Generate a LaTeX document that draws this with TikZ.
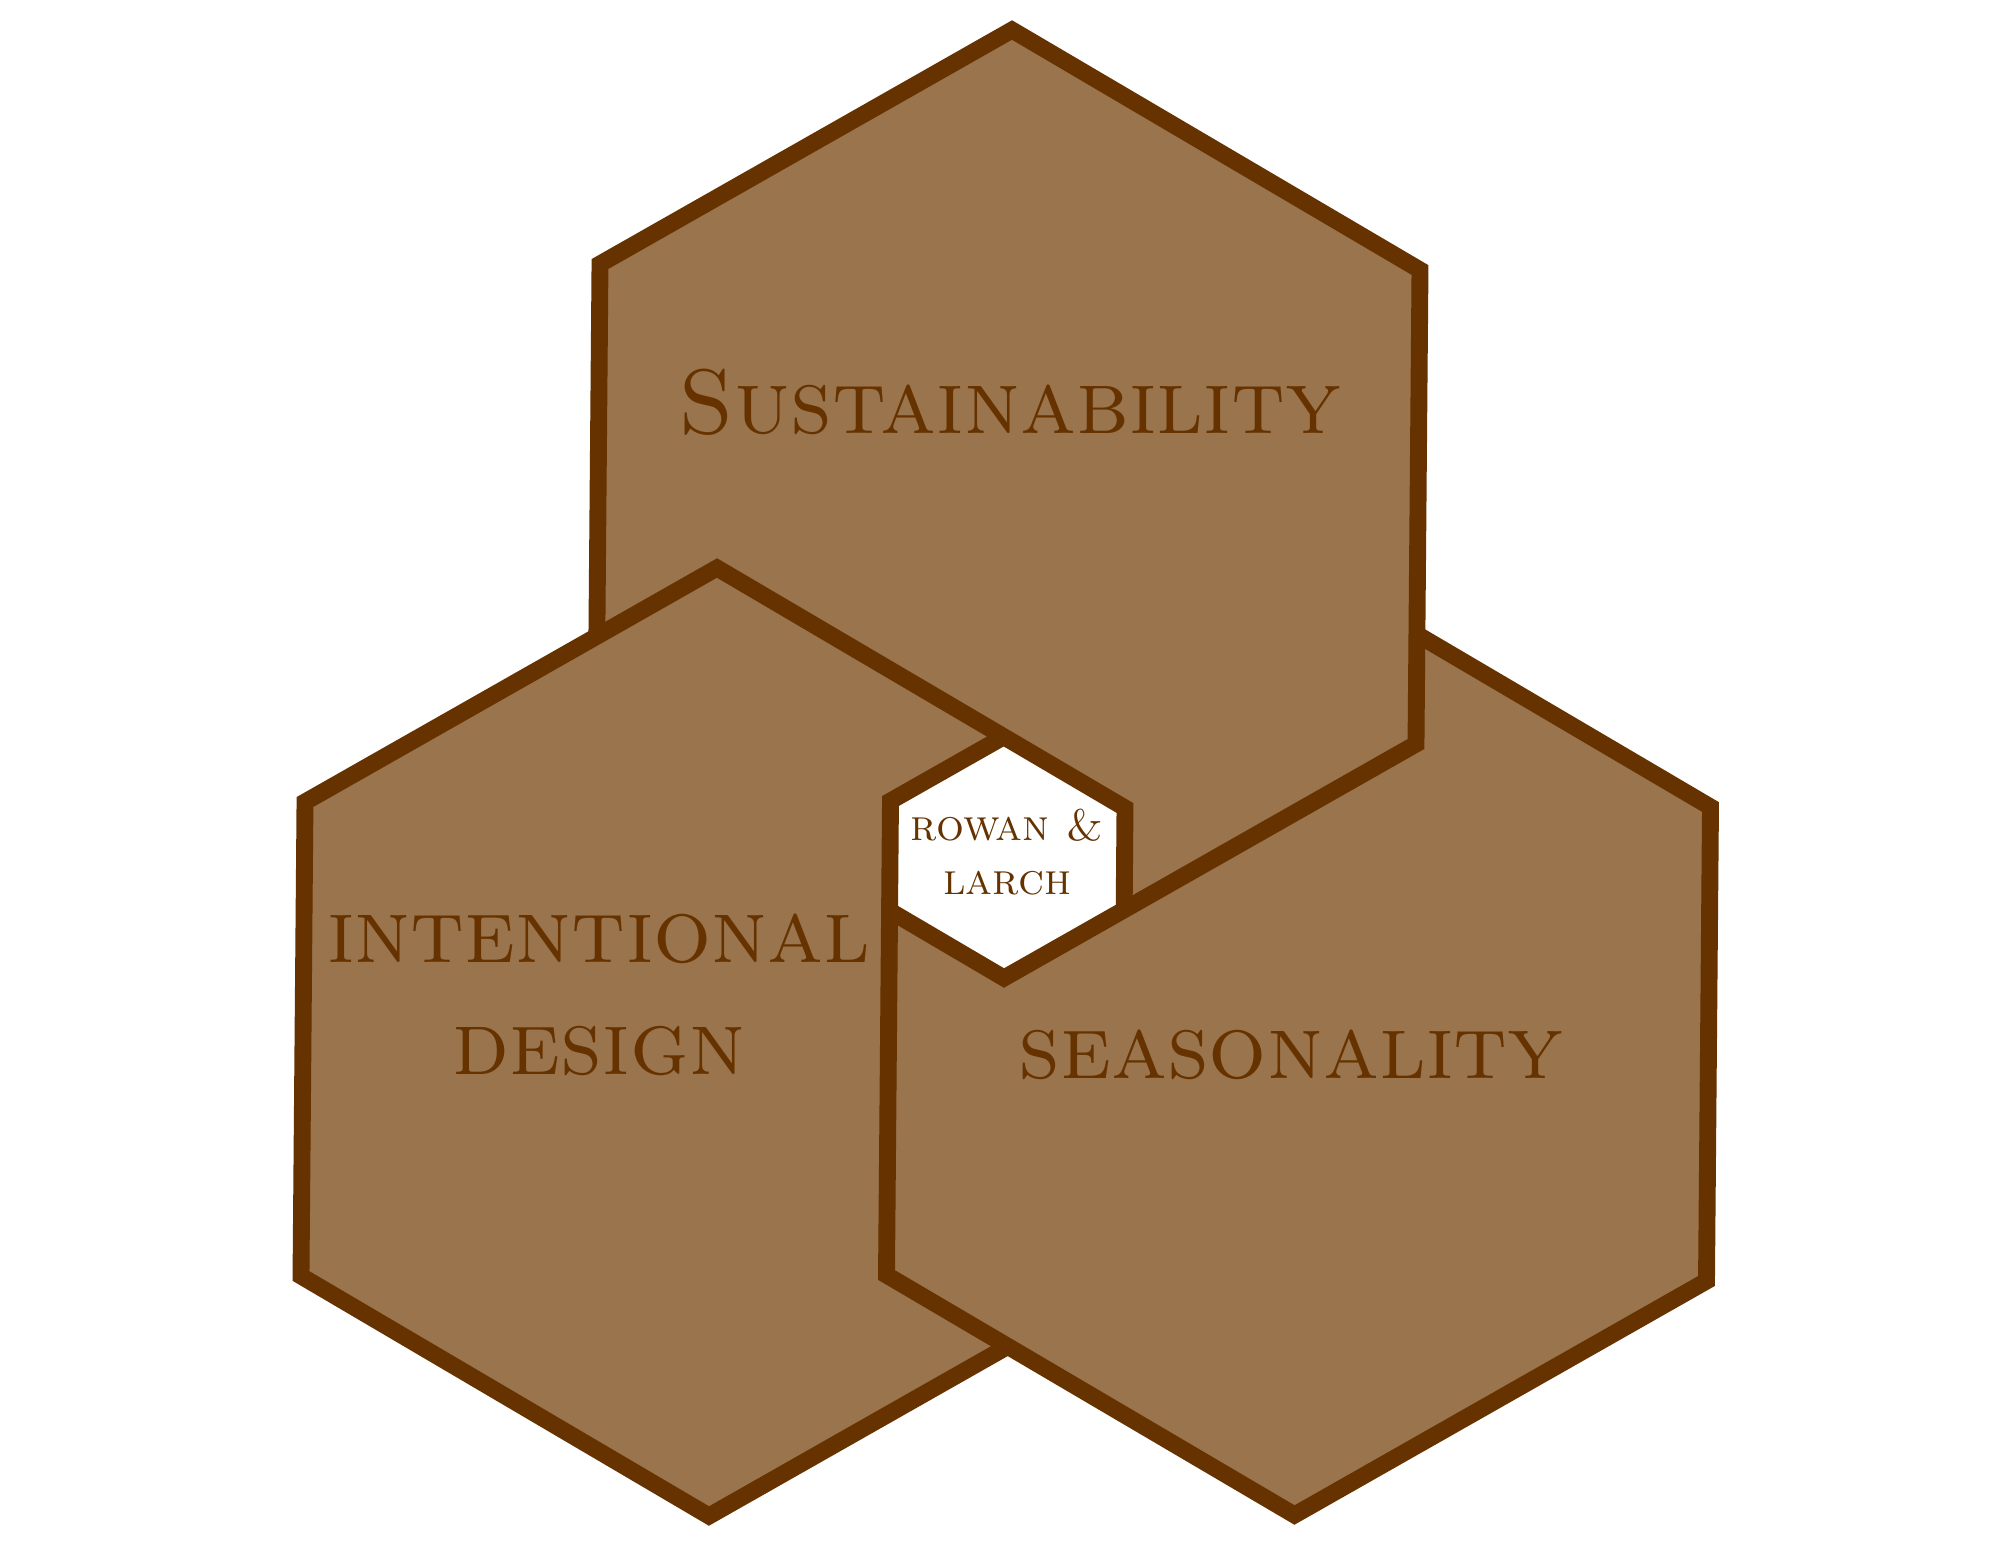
\documentclass[tikz,border=0pt]{standalone}
\definecolor{hexfill}{HTML}{99744C}
\definecolor{hexline}{HTML}{663300}
\tikzset{hexedge/.style={draw=hexline,line width=4.8pt,line join=miter},
  hexlabel/.style={text=hexline,align=center,font=\fontsize{26}{32}\selectfont\scshape}}
%corners of one hexagon around (#2,#3)
\newcommand{\hexcorners}[3]{%
  \coordinate (#1-t) at (#2+\kd,#3-\kh);
  \coordinate (#1-ur) at (#2+\kx,#3-\ky);
  \coordinate (#1-lr) at (#2+\kx-\kd,#3+\kh-\ky);
  \coordinate (#1-b) at (#2-\kd,#3+\kh);
  \coordinate (#1-ll) at (#2-\kx,#3+\ky);
  \coordinate (#1-ul) at (#2-\kx+\kd,#3-\kh+\ky);}
\begin{document}
\begin{tikzpicture}[x=0.01cm,y=-0.01cm]
\useasboundingbox (0,0) rectangle (1999,1545);
\pgfmathsetmacro{\kx}{412}
\pgfmathsetmacro{\ky}{234}
\pgfmathsetmacro{\kh}{474}
\pgfmathsetmacro{\kd}{4}
\hexcorners{top}{1008}{504}
\hexcorners{left}{713}{1042}
\hexcorners{right}{1298.5}{1041}
%where the outlines run under one another
\coordinate (p1) at (intersection of top-ul--top-ll and left-ul--left-t);
\coordinate (p2) at (intersection of top-ur--top-lr and right-t--right-ur);
\coordinate (p3) at (intersection of left-lr--left-b and right-ll--right-b);
\coordinate (mid-t) at (intersection of right-ul--right-t and left-t--left-ur);
\coordinate (mid-lr) at (intersection of left-ur--left-lr and top-lr--top-b);
\coordinate (mid-ll) at (intersection of top-b--top-ll and right-ll--right-ul);
%fills
\fill[hexfill](top-t)--(top-ur)--(top-lr)--(top-b)--(top-ll)--(top-ul)--cycle;
\fill[hexfill](left-t)--(left-ur)--(left-lr)--(left-b)--(left-ll)--(left-ul)--cycle;
\fill[hexfill](right-t)--(right-ur)--(right-lr)--(right-b)--(right-ll)--(right-ul)--cycle;
\fill[white](mid-t)--(left-ur)--(mid-lr)--(top-b)--(mid-ll)--(right-ul)--cycle;
%outlines, each one passing over the next
\draw[hexedge](p1)--(top-ul)--(top-t)--(top-ur)--(top-lr)--(top-b)--(mid-ll);
\draw[hexedge](p2)--(right-ur)--(right-lr)--(right-b)--(right-ll)--(right-ul)--(mid-t);
\draw[hexedge](p3)--(left-b)--(left-ll)--(left-ul)--(left-t)--(left-ur)--(mid-lr);
%labels
\node[hexlabel](sustain) at (1010,402) {Sustainability};
\node[hexlabel](intent) at (599,995) {intentional\\design};
\node[hexlabel](season) at (1291,1055) {seasonality};
\node[hexlabel,font=\fontsize{12.5}{15.6}\selectfont\scshape](brand) at (1007,852) {rowan \&\\larch};
\end{tikzpicture}
\end{document}
